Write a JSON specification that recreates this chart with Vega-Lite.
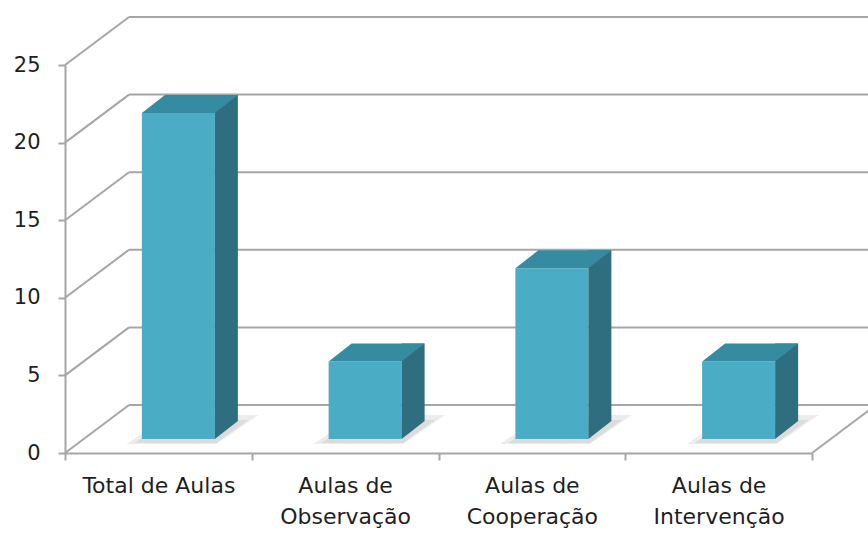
{
  "$schema": "https://vega.github.io/schema/vega-lite/v6.json",
  "width": 747,
  "height": 388,
  "autosize": "none",
  "padding": {"left": 65, "top": 65, "right": 56, "bottom": 88},
  "background": "white",
  "config": {
    "view": {"stroke": null},
    "font": "DejaVu Sans",
    "axis": {"labelFont": "DejaVu Sans", "labelFontSize": 21, "labelColor": "#1f1f1f", "domainColor": "#a6a6a6", "domainWidth": 2, "tickColor": "#a6a6a6", "tickWidth": 2, "tickSize": 7, "grid": false, "title": null}
  },
  "datasets": {
    "aulas": [
      {"categoria": "Total de Aulas", "valor": 21},
      {"categoria": "Aulas de Observação", "valor": 5},
      {"categoria": "Aulas de Cooperação", "valor": 11},
      {"categoria": "Aulas de Intervenção", "valor": 5}
    ],
    "grade": [{"v": 0}, {"v": 5}, {"v": 10}, {"v": 15}, {"v": 20}, {"v": 25}],
    "chao": [{"v": 0}]
  },
  "layer": [
    {
      "data": {"name": "aulas"},
      "mark": {"type": "point", "shape": "M-32,-9L58,-9L100,-38L12,-38Z", "size": 4, "filled": true, "color": "#ececec", "opacity": 1, "strokeWidth": 0},
      "encoding": {
        "x": {"field": "categoria", "type": "nominal", "sort": null, "scale": {"paddingInner": 0, "paddingOuter": 0},
          "axis": {"labelAngle": 0, "tickBand": "extent", "labelFontSize": 22, "labelPadding": 15, "labelLineHeight": 31, "labelExpr": "split(replace(datum.label, 'Aulas de ', 'Aulas de|'), '|')"}},
        "y": {"datum": 0, "type": "quantitative", "scale": {"domain": [0, 25], "nice": false},
          "axis": {"values": [0, 5, 10, 15, 20, 25], "labelPadding": 18}}
      }
    },
    {
      "data": {"name": "aulas"},
      "mark": {"type": "point", "shape": "M-24,-10L58,-10L90,-33L10,-33Z", "size": 4, "filled": true, "color": "#dcdcdc", "opacity": 1, "strokeWidth": 0},
      "encoding": {
        "x": {"field": "categoria", "type": "nominal", "sort": null},
        "y": {"datum": 0, "type": "quantitative"}
      }
    },
    {
      "data": {"name": "grade"},
      "mark": {"type": "rule", "color": "#a6a6a6", "strokeWidth": 2, "xOffset": 64, "x2Offset": 64, "yOffset": -48, "y2Offset": -48},
      "encoding": {
        "x": {"datum": "Total de Aulas", "bandPosition": 0},
        "x2": {"datum": "Aulas de Intervenção", "bandPosition": 1},
        "y": {"field": "v", "type": "quantitative"},
        "y2": {"field": "v"}
      }
    },
    {
      "data": {"name": "grade"},
      "mark": {"type": "rule", "color": "#a6a6a6", "strokeWidth": 2, "x2Offset": 64, "y2Offset": -48},
      "encoding": {
        "x": {"datum": "Total de Aulas", "bandPosition": 0},
        "x2": {"datum": "Total de Aulas", "bandPosition": 0},
        "y": {"field": "v", "type": "quantitative"},
        "y2": {"field": "v"}
      }
    },
    {
      "data": {"name": "chao"},
      "mark": {"type": "rule", "color": "#a6a6a6", "strokeWidth": 2, "x2Offset": 64, "y2Offset": -48},
      "encoding": {
        "x": {"datum": "Aulas de Intervenção", "bandPosition": 1},
        "x2": {"datum": "Aulas de Intervenção", "bandPosition": 1},
        "y": {"field": "v", "type": "quantitative"},
        "y2": {"field": "v"}
      }
    },
    {
      "data": {"name": "aulas"},
      "mark": {"type": "bar", "width": 73, "color": "#4BACC6", "xOffset": 20, "yOffset": -14, "y2Offset": -14},
      "encoding": {
        "x": {"field": "categoria", "type": "nominal", "sort": null},
        "y": {"field": "valor", "type": "quantitative"}
      }
    },
    {
      "data": {"name": "aulas"},
      "mark": {"type": "bar", "width": 23, "color": "#2F6E7F", "xOffset": 68, "yOffset": -32, "y2Offset": -32},
      "encoding": {
        "x": {"field": "categoria", "type": "nominal", "sort": null},
        "y": {"field": "valor", "type": "quantitative"}
      }
    },
    {
      "data": {"name": "aulas"},
      "mark": {"type": "point", "shape": "M56.5,-32L79.5,-32L56.5,-14Z", "size": 4, "filled": true, "color": "#2F6E7F", "opacity": 1, "strokeWidth": 0},
      "encoding": {
        "x": {"field": "categoria", "type": "nominal", "sort": null},
        "y": {"datum": 0, "type": "quantitative"}
      }
    },
    {
      "data": {"name": "aulas"},
      "mark": {"type": "point", "shape": "M-16.5,-14L56.5,-14L79.5,-32L6.5,-32Z", "size": 4, "filled": true, "color": "#358BA0", "opacity": 1, "strokeWidth": 0},
      "encoding": {
        "x": {"field": "categoria", "type": "nominal", "sort": null},
        "y": {"field": "valor", "type": "quantitative"}
      }
    }
  ]
}
